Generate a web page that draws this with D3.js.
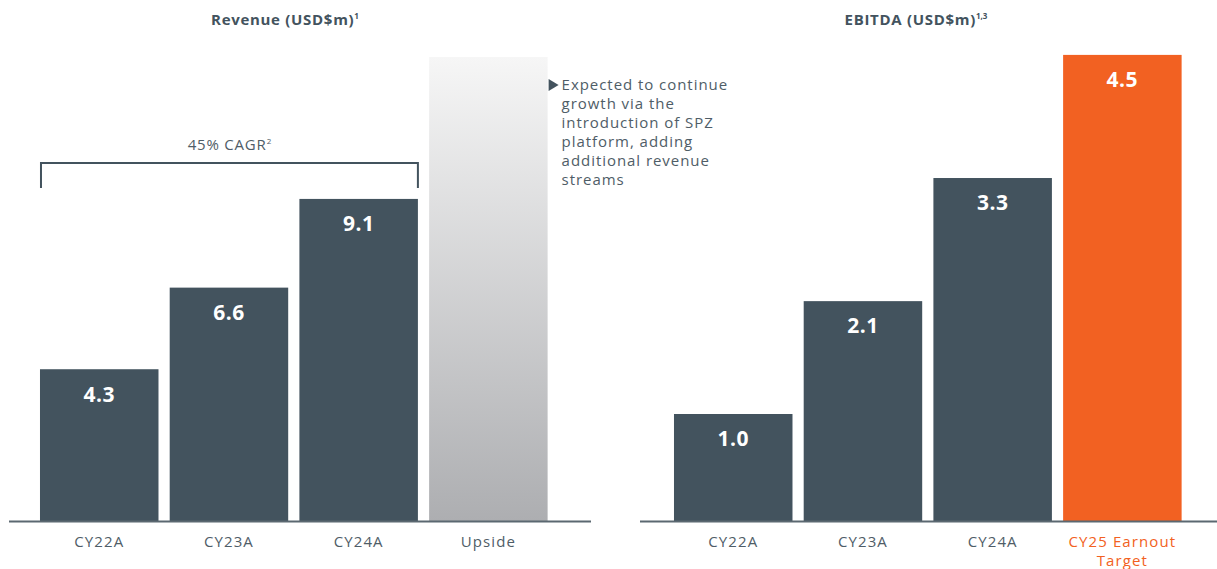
<!DOCTYPE html>
<html>
<head>
<meta charset="utf-8">
<script src="https://cdn.jsdelivr.net/npm/d3@7"></script>
<style>
  html, body { margin: 0; padding: 0; background: #ffffff; }
  svg { display: block; font-family: "Open Sans", "Lato", sans-serif; }
</style>
</head>
<body>
<svg id="chart" width="1217" height="569"></svg>
<script>
// Revenue panel
const revCategories = ["CY22A", "CY23A", "CY24A", "Upside"];
const revValues = [4.3, 6.6, 9.1, 13.1];
const revLabels = ["4.3", "6.6", "9.1", null];

// EBITDA panel
const ebitdaCategories = ["CY22A", "CY23A", "CY24A", "CY25 Earnout Target"];
const ebitdaValues = [1.0, 2.1, 3.3, 4.5];
const ebitdaLabels = ["1.0", "2.1", "3.3", "4.5"];

const cagrText = "45% CAGR";
const upsideNote = ["Expected to continue", "growth via the", "introduction of SPZ",
                    "platform, adding", "additional revenue", "streams"];

const DARK = "#43535e";
const TEXT = "#4f5d67";
const ORANGE = "#f26122";
const baseY = 521;

const svg = d3.select("#chart");
const defs = svg.append("defs");
const grad = defs.append("linearGradient").attr("id", "upsideGrad")
  .attr("x1", 0).attr("y1", 0).attr("x2", 0).attr("y2", 1);
grad.append("stop").attr("offset", "0%").attr("stop-color", "#f6f6f6");
grad.append("stop").attr("offset", "100%").attr("stop-color", "#adaeb1");

function panel(cfg) {
  const g = svg.append("g");
  const x = d3.scaleBand().domain(cfg.categories)
    .range(cfg.range).paddingInner(0.0864).paddingOuter(0.05);
  // value axis sits a few pixels above the drawn baseline
  const y = d3.scaleLinear().domain([0, cfg.yMax])
    .range([baseY - cfg.yLift, baseY - cfg.yLift - cfg.yPix]);

  const data = cfg.categories.map((c, i) => ({ c, v: cfg.values[i], l: cfg.labels[i], i }));

  g.selectAll("rect.bar").data(data).join("rect")
    .attr("class", "bar")
    .attr("x", d => x(d.c))
    .attr("width", x.bandwidth())
    .attr("y", d => y(d.v))
    .attr("height", d => baseY - y(d.v))
    .attr("fill", d => cfg.fill(d));

  g.selectAll("text.val").data(data.filter(d => d.l)).join("text")
    .attr("class", "val")
    .attr("x", d => x(d.c) + x.bandwidth() / 2)
    .attr("y", d => y(d.v) + 25)
    .attr("dy", "0.35em")
    .attr("text-anchor", "middle")
    .attr("fill", "#ffffff")
    .attr("font-size", 21)
    .attr("font-weight", 700)
    .attr("letter-spacing", 0.5)
    .text(d => d.l);

  // baseline
  g.append("line")
    .attr("x1", cfg.lineExtent[0]).attr("x2", cfg.lineExtent[1])
    .attr("y1", baseY + 0.5).attr("y2", baseY + 0.5)
    .attr("stroke", "#5b6871").attr("stroke-width", 2);

  // category axis
  const axis = g.append("g")
    .attr("transform", `translate(0,${baseY})`)
    .call(d3.axisBottom(x).tickSize(0).tickPadding(0));
  axis.select(".domain").remove();
  axis.selectAll(".tick text").remove();
  axis.selectAll(".tick").each(function (c, i) {
    const lines = cfg.wrap[i];
    d3.select(this).selectAll("text.cat").data(lines).join("text")
      .attr("class", "cat")
      .attr("x", 0)
      .attr("y", (w, k) => 25.5 + k * 19)
      .attr("text-anchor", "middle")
      .attr("fill", cfg.tickColor(i))
      .attr("font-size", 15)
      .attr("letter-spacing", 1.1)
      .attr("font-family", "\"Open Sans\", \"Lato\", sans-serif")
      .text(w => w);
  });

  // title
  const title = g.append("text")
    .attr("x", cfg.titleX).attr("y", 25)
    .attr("text-anchor", "middle")
    .attr("fill", DARK)
    .attr("font-size", 15)
    .attr("font-weight", 700)
    .attr("letter-spacing", 0.7);
  title.append("tspan").text(cfg.title);
  title.append("tspan").attr("font-size", 8).attr("dy", -6).attr("letter-spacing", 0).text(cfg.sup);

  return { g, x, y };
}

const rev = panel({
  categories: revCategories, values: revValues, labels: revLabels,
  range: [33.5, 554.1], yMax: 13.1, yPix: 464.8, yLift: -0.8,
  lineExtent: [9, 591],
  fill: d => d.c === "Upside" ? "url(#upsideGrad)" : DARK,
  tickColor: () => TEXT,
  wrap: revCategories.map(c => [c]),
  titleX: 285, title: "Revenue (USD$m)", sup: "1"
});

const ebitda = panel({
  categories: ebitdaCategories, values: ebitdaValues, labels: ebitdaLabels,
  range: [667.5, 1188.1], yMax: 4.5, yPix: 461.7, yLift: 4.4,
  lineExtent: [640, 1217],
  fill: d => d.i === 3 ? ORANGE : DARK,
  tickColor: i => i === 3 ? ORANGE : TEXT,
  wrap: [["CY22A"], ["CY23A"], ["CY24A"], ["CY25 Earnout", "Target"]],
  titleX: 916, title: "EBITDA (USD$m)", sup: "1,3"
});

// CAGR bracket spanning the actual-year bars
{
  const x = rev.x;
  const x0 = x("CY22A") + 1;
  const x1 = x("CY24A") + x.bandwidth();
  const yTop = 163, yBot = 188;
  rev.g.append("path")
    .attr("d", `M${x0},${yBot}V${yTop}H${x1}V${yBot}`)
    .attr("fill", "none")
    .attr("stroke", DARK)
    .attr("stroke-width", 2);
  const t = rev.g.append("text")
    .attr("x", (x0 + x1) / 2).attr("y", 150)
    .attr("text-anchor", "middle")
    .attr("fill", TEXT)
    .attr("font-size", 15)
    .attr("letter-spacing", 0.8);
  t.append("tspan").text(cagrText);
  t.append("tspan").attr("font-size", 8).attr("dy", -6).attr("letter-spacing", 0).text("2");
}

// Upside note
{
  const x = rev.x;
  const ax = x("Upside") + x.bandwidth() + 1;
  rev.g.append("path")
    .attr("d", `M${ax},79L${ax + 10},85L${ax},91Z`)
    .attr("fill", DARK);
  const note = rev.g.append("g")
    .attr("fill", TEXT)
    .attr("font-size", 15)
    .attr("letter-spacing", 0.95);
  note.selectAll("text").data(upsideNote).join("text")
    .attr("x", ax + 13)
    .attr("y", (d, k) => 90 + k * 19)
    .text(d => d);
}
</script>
</body>
</html>
